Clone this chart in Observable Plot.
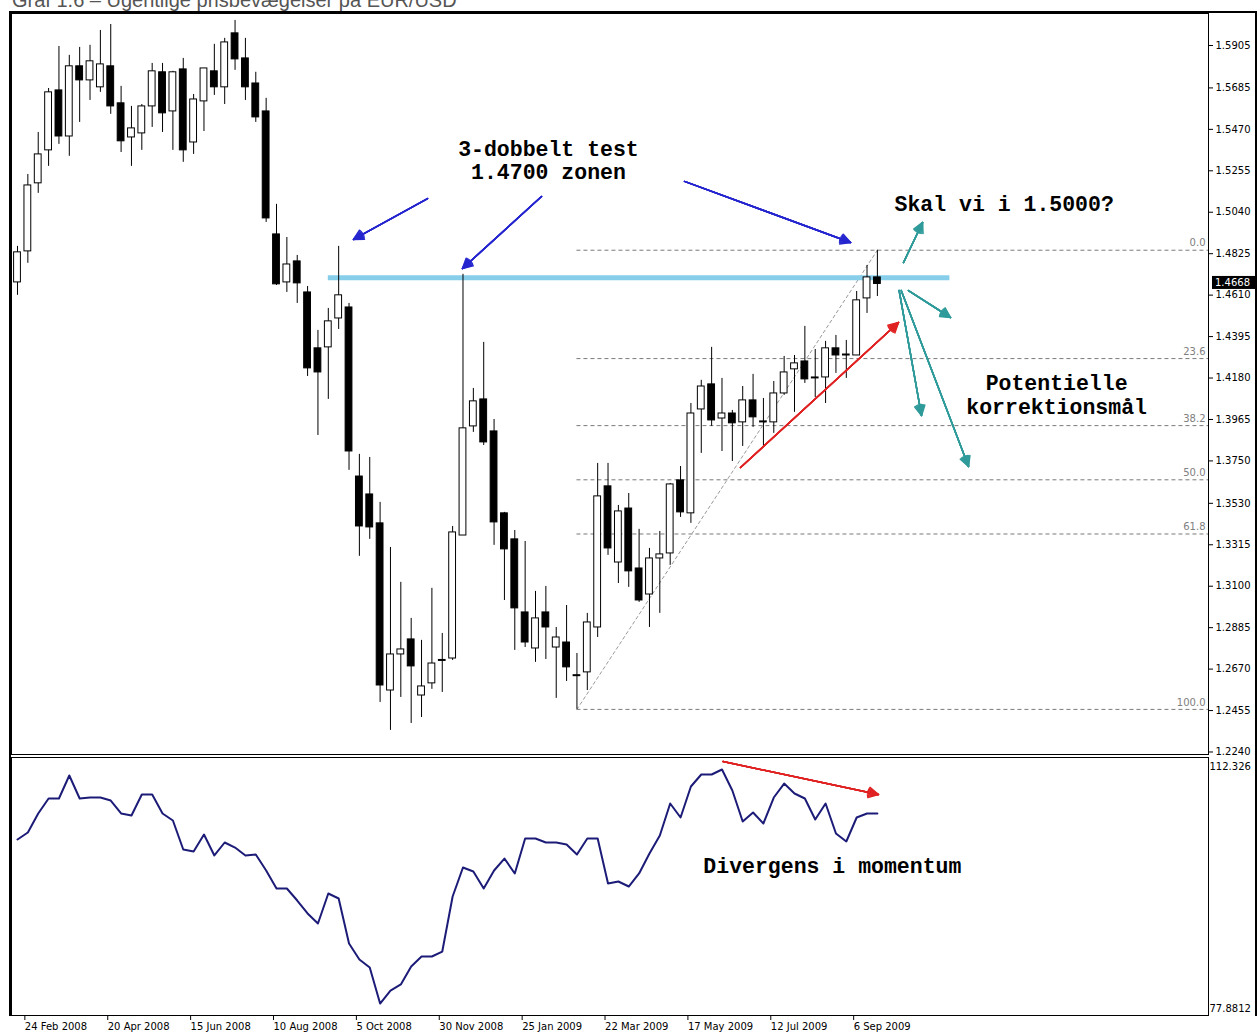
<!DOCTYPE html>
<html><head><meta charset="utf-8">
<script src="https://cdn.jsdelivr.net/npm/d3@7"></script>
<script src="https://cdn.jsdelivr.net/npm/@observablehq/plot@0.6"></script>
<style>
body{margin:0;background:#fff;width:1258px;height:1033px;overflow:hidden;position:relative;font-family:"DejaVu Sans",sans-serif;}
#title{position:absolute;left:12px;top:-10px;font:20px "Liberation Sans",Arial,sans-serif;color:#555;line-height:20px;white-space:nowrap;z-index:5}
#box{position:absolute;left:9px;top:11px;width:1244px;height:1003px;border:2px solid #000;border-bottom:none;pointer-events:none;z-index:4}
#main{position:absolute;left:0;top:0;z-index:1}
#osc{position:absolute;left:0;top:757px;z-index:1}
</style></head><body>
<div id="title">Graf 1.6 – Ugentlige prisbevægelser på EUR/USD</div>
<div id="main"></div><div id="osc"></div><div id="box"></div>
<script>
// ---------- data ----------
const firstWeek = "2008-02-17";
const open = [1.4676,1.4837,1.5190,1.5361,1.5672,1.5433,1.5797,1.5724,1.5688,1.5797,
1.5605,1.5428,1.5449,1.5589,1.5766,1.5563,1.5781,1.5402,1.5615,1.5771,
1.5688,1.5968,1.5838,1.5708,1.5563,1.4925,1.4676,1.4785,1.4624,1.4334,
1.4339,1.4489,1.4546,1.3669,1.3576,1.3426,1.2559,1.2746,1.2824,1.2533,
1.2596,1.2715,1.2725,1.3363,1.3929,1.4069,1.3903,1.3478,1.3343,1.2964,
1.2777,1.2964,1.2782,1.2808,1.2637,1.2653,1.2886,1.3618,1.3223,1.3503,
1.3192,1.3057,1.3244,1.3270,1.3649,1.3478,1.4017,1.4147,1.3970,1.3996,
1.3950,1.4064,1.3955,1.3950,1.4100,1.4225,1.4266,1.4183,1.4183,1.4334,
1.4302,1.4297,1.4593,1.4702];
const high = [1.4863,1.5236,1.5454,1.5682,1.5900,1.5854,1.5895,1.5906,1.5983,1.6014,
1.5693,1.5589,1.5599,1.5812,1.5812,1.5771,1.5838,1.5651,1.5786,1.5911,
1.5942,1.6035,1.5942,1.5766,1.5631,1.5081,1.4909,1.4816,1.4655,1.4427,
1.4541,1.4863,1.4567,1.3784,1.3768,1.3535,1.3301,1.3120,1.2933,1.2819,
1.3089,1.2855,1.3410,1.4718,1.4126,1.4365,1.3965,1.3483,1.3389,1.3332,
1.3073,1.3099,1.2886,1.3000,1.2751,1.2959,1.3737,1.3737,1.3519,1.3581,
1.3395,1.3296,1.3384,1.3633,1.3721,1.4048,1.4168,1.4339,1.4178,1.4012,
1.4136,1.4199,1.4074,1.4162,1.4292,1.4297,1.4448,1.4328,1.4370,1.4401,
1.4375,1.4629,1.4764,1.4843];
const low = [1.4609,1.4775,1.5138,1.5278,1.5392,1.5330,1.5506,1.5620,1.5662,1.5548,
1.5350,1.5278,1.5361,1.5480,1.5454,1.5361,1.5299,1.5340,1.5459,1.5646,
1.5599,1.5776,1.5620,1.5506,1.4987,1.4660,1.4624,1.4567,1.4188,1.3882,
1.4069,1.4432,1.3701,1.3255,1.3343,1.2497,1.2352,1.2523,1.2388,1.2419,
1.2565,1.2549,1.2715,1.3363,1.3898,1.3830,1.3312,1.3026,1.2767,1.2782,
1.2705,1.2720,1.2518,1.2606,1.2461,1.2559,1.2834,1.3260,1.3114,1.3094,
1.3016,1.2886,1.2959,1.3208,1.3457,1.3426,1.3789,1.3929,1.3799,1.3747,
1.3825,1.3924,1.3825,1.3893,1.4090,1.4002,1.4152,1.4079,1.4048,1.4204,
1.4178,1.4297,1.4515,1.4603];
const close = [1.4832,1.5179,1.5340,1.5662,1.5433,1.5797,1.5724,1.5823,1.5807,1.5589,
1.5408,1.5475,1.5589,1.5771,1.5553,1.5766,1.5361,1.5625,1.5786,1.5688,
1.5921,1.5833,1.5688,1.5532,1.5008,1.4666,1.4769,1.4671,1.4230,1.4209,
1.4474,1.4609,1.3799,1.3410,1.3405,1.2585,1.2746,1.2772,1.2684,1.2580,
1.2699,1.2720,1.3379,1.3919,1.4059,1.3846,1.3431,1.3291,1.2985,1.2808,
1.2933,1.2886,1.2834,1.2679,1.2640,1.2912,1.3566,1.3296,1.3488,1.3177,
1.3026,1.3244,1.3265,1.3628,1.3483,1.3996,1.4136,1.3960,1.3996,1.3945,
1.4064,1.3976,1.3955,1.4100,1.4209,1.4256,1.4173,1.4183,1.4334,1.4297,
1.4302,1.4583,1.4702,1.4668];
const momentum = [102.02,103.05,105.85,108.06,108.06,111.44,108.06,108.20,108.20,107.76,
105.85,105.55,108.64,108.64,105.85,104.82,100.55,100.25,102.76,99.67,
101.58,100.84,99.67,99.81,97.46,94.81,94.81,93.04,91.13,89.66,
94.07,93.34,86.71,84.36,83.18,77.8812,79.79,80.68,83.33,84.80,
84.80,85.53,93.63,97.90,97.31,94.81,97.46,99.22,97.02,102.17,
102.17,101.58,101.58,101.28,99.81,102.17,102.17,95.54,95.84,95.10,
97.02,99.96,102.61,107.32,105.26,109.82,111.59,111.59,112.326,109.23,
104.67,106.00,104.38,108.20,110.26,108.79,108.06,104.96,107.32,102.90,
101.73,105.26,105.85,105.85];
const priceTicks = [1.5905,1.5685,1.5470,1.5255,1.5040,1.4825,1.4610,1.4395,1.4180,1.3965,1.3750,1.3530,1.3315,1.3100,1.2885,1.2670,1.2455,1.2240];
const dateTicks = ["2008-02-24","2008-04-20","2008-06-15","2008-08-10","2008-10-05","2008-11-30","2009-01-25","2009-03-22","2009-05-17","2009-07-12","2009-09-06"];
const dateLabels = ["24 Feb 2008","20 Apr 2008","15 Jun 2008","10 Aug 2008","5 Oct 2008","30 Nov 2008","25 Jan 2009","22 Mar 2009","17 May 2009","12 Jul 2009","6 Sep 2009"];
const fibPct = [0, 23.6, 38.2, 50, 61.8, 100];
const fibFrom = 54, fibTo = 83;          // swing low week, swing high week
const zoneLevel = 1.4700, zoneFrom = 30, zoneTo = 90;
const oscLabels = [112.326, 77.8812];
// annotations (week index, value)
const blueArrows = [
  {x1:39.58,y1:1.5111,x2:32.43,y2:1.4899},
  {x1:50.58,y1:1.5122,x2:42.95,y2:1.4748},
  {x1:64.38,y1:1.5200,x2:80.41,y2:1.4883}];
const tealArrows = [
  {x1:85.52,y1:1.4779,x2:87.36,y2:1.4987},
  {x1:86.0,y1:1.4634,x2:90.06,y2:1.4494},
  {x1:85.1,y1:1.4634,x2:87.26,y2:1.3985},
  {x1:85.3,y1:1.4634,x2:91.8,y2:1.3721}];
const redArrows = [{x1:69.79,y1:1.3716,x2:85.04,y2:1.4468}];
const redOscArrows = [{x1:68.1,y1:113.5,x2:83.1,y2:108.65}];
const centeredNotes = [
  {x:51.25,y:1.5311,text:"3-dobbelt test\n1.4700 zonen"},
  {x:100.3,y:1.4094,text:"Potentielle\nkorrektionsmål"}];
const leftNotes = [{x:84.65,y:1.5085,text:"Skal vi i 1.5000?"}];
const oscNotes = [{x:66.2,y:98.19,text:"Divergens i momentum"}];

// ---------- helpers ----------
const WEEK = 7*864e5, DAY = 864e5;
const t0 = +new Date(firstWeek);
const wk = i => new Date(t0 + i*WEEK);
const candles = open.map((o,i)=>({date:wk(i),open:o,high:high[i],low:low[i],close:close[i]}));
const isDoji = d => Math.abs(d.close-d.open) < 0.0009;
const bodies = candles.filter(d=>!isDoji(d));
const dojis = candles.filter(isDoji);
const mom = momentum.map((v,i)=>({date:wk(i),v}));
const hi = candles[fibTo].high, lo = candles[fibFrom].low;
const fibs = fibPct.map(p=>({p, y: hi-(hi-lo)*p/100}));
const xDomain = [wk(-0.579), wk(114.96)];
const monoFont = {fontFamily:"Liberation Mono, Courier New, monospace", fontSize:21.5, fontWeight:"bold", fill:"black", lineHeight:1.08};

function arrowSet(data, color){
  return [8,20,32,44,56].map(a=>Plot.arrow(data,{x1:d=>wk(d.x1),y1:"y1",x2:d=>wk(d.x2),y2:"y2",stroke:color,strokeWidth:1.5,headAngle:a,headLength:11}));
}

// ---------- main price panel ----------
const main = Plot.plot({
  width:1258, height:757, marginLeft:11, marginRight:50, marginTop:13, marginBottom:3,
  style:{fontFamily:"DejaVu Sans, sans-serif", fontSize:"10px", background:"white", color:"black"},
  x:{type:"utc", domain:xDomain, axis:null},
  y:{domain:[1.2227,1.6071], axis:null},
  marks:[
    Plot.ruleY(fibs,{y:"y",x1:()=>wk(fibFrom),x2:()=>xDomain[1],stroke:"#7a7a7a",strokeDasharray:"4,3",strokeWidth:1}),
    Plot.text(fibs,{y:"y",text:d=>d3.format(".1f")(d.p),frameAnchor:"right",textAnchor:"end",dx:-3,dy:-7,fill:"#808080",fontSize:10}),
    Plot.line([{x:wk(fibFrom),y:lo},{x:wk(fibTo),y:hi}],{x:"x",y:"y",stroke:"#9a9a9a",strokeDasharray:"3,3",strokeWidth:1}),
    Plot.ruleY([zoneLevel],{x1:()=>wk(zoneFrom),x2:()=>wk(zoneTo),stroke:"#87CEEB",strokeWidth:5}),
    Plot.ruleX(candles,{x:"date",y1:"low",y2:"high",stroke:"black",strokeWidth:1}),
    Plot.rect(bodies,{x1:d=>new Date(+d.date-2.3*DAY),x2:d=>new Date(+d.date+2.3*DAY),y1:"open",y2:"close",fill:d=>d.close>=d.open?"white":"black",stroke:"black",strokeWidth:1}),
    Plot.ruleY(dojis,{y:d=>(d.open+d.close)/2,x1:d=>new Date(+d.date-2.6*DAY),x2:d=>new Date(+d.date+2.6*DAY),stroke:"black",strokeWidth:2}),
    ...arrowSet(blueArrows,"#2626cf"),
    ...arrowSet(tealArrows,"#2f9a9a"),
    ...arrowSet(redArrows,"#e02222"),
    Plot.text(centeredNotes,{x:d=>wk(d.x),y:"y",text:"text",textAnchor:"middle",...monoFont}),
    Plot.text(leftNotes,{x:d=>wk(d.x),y:"y",text:"text",textAnchor:"start",...monoFont}),
    Plot.axisY({anchor:"right",ticks:priceTicks,tickFormat:d3.format(".4f"),tickSize:4,tickPadding:3,fontSize:10}),
    Plot.frame({stroke:"black",strokeWidth:1})
  ]
});
document.getElementById("main").append(main);
// current price tag
{
  const last = close[close.length-1];
  const yy = main.scale("y").apply(last);
  const svg = d3.select(main);
  svg.append("rect").attr("x",1212).attr("y",yy-7.5).attr("width",44).attr("height",13).attr("fill","black");
  svg.append("text").attr("x",1215).attr("y",yy-1).attr("dy","0.32em").attr("fill","white").attr("text-anchor","start")
    .attr("font-family","DejaVu Sans, sans-serif").attr("font-size",10).text(d3.format(".4f")(last));
}

// ---------- momentum panel ----------
const tickMap = new Map(dateTicks.map((s,i)=>[+new Date(s),dateLabels[i]]));
const osc = Plot.plot({
  width:1258, height:276, marginLeft:11, marginRight:50, marginTop:0, marginBottom:18,
  style:{fontFamily:"DejaVu Sans, sans-serif", fontSize:"10px", background:"white", color:"black"},
  x:{type:"utc", domain:xDomain, axis:null},
  y:{domain:[76.115,114.092], axis:null},
  marks:[
    Plot.line(mom,{x:"date",y:"v",stroke:"#1c1c78",strokeWidth:2}),
    ...arrowSet(redOscArrows,"#e02222"),
    Plot.text(oscNotes,{x:d=>wk(d.x),y:"y",text:"text",textAnchor:"start",...monoFont}),
    Plot.text(oscLabels.slice(0,1),{y:d=>d,text:d=>String(d),frameAnchor:"right",textAnchor:"start",dx:1,dy:-3,fontSize:10,fill:"black"}),
    Plot.text(oscLabels.slice(1),{y:d=>d,text:d=>String(d),frameAnchor:"right",textAnchor:"start",dx:1,dy:5,fontSize:10,fill:"black"}),
    Plot.axisX({ticks:dateTicks.map(s=>new Date(s)),tickFormat:d=>tickMap.get(+d),tickSize:5,tickPadding:2,textAnchor:"start",dx:-3,fontSize:10}),
    Plot.frame({stroke:"black",strokeWidth:1})
  ]
});
document.getElementById("osc").append(osc);
</script></body></html>
